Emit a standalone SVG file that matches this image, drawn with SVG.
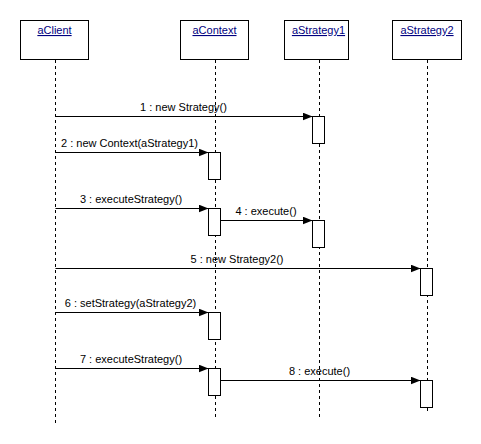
<svg xmlns="http://www.w3.org/2000/svg" width="481" height="444" viewBox="0 0 481 444">
  <style>
    .obj { fill: #ffffff; stroke: #000000; stroke-width: 1; }
    .name { font-family: "Liberation Sans", Arial, sans-serif; font-size: 11px; fill: #000080; text-anchor: middle; text-decoration: underline; }
    .life { stroke: #000000; stroke-width: 1; stroke-dasharray: 3 3; fill: none; }
    .act { fill: #ffffff; stroke: #000000; stroke-width: 1; }
    .msg { stroke: #000000; stroke-width: 1; fill: none; marker-end: url(#arrow); }
    .lbl { font-family: "Liberation Sans", Arial, sans-serif; font-size: 11px; fill: #000000; text-anchor: middle; }
  </style>
  <defs>
    <marker id="arrow" viewBox="0 0 10 8" refX="10" refY="4" markerWidth="10" markerHeight="8" markerUnits="userSpaceOnUse" orient="auto">
      <path d="M0,0 L10,4 L0,8 Z" fill="#000000"/>
    </marker>
  </defs>
  <rect width="481" height="444" fill="#ffffff"/>

  <!-- lifelines with their object boxes -->
  <g id="aClient">
    <rect class="obj" x="20.5" y="20.5" width="68" height="39"/>
    <text class="name" x="54.5" y="34">aClient</text>
    <line class="life" x1="55.5" y1="60" x2="55.5" y2="423"/>
  </g>
  <g id="aContext">
    <rect class="obj" x="180.5" y="20.5" width="68" height="39"/>
    <text class="name" x="214.5" y="34">aContext</text>
    <line class="life" x1="215.5" y1="60" x2="215.5" y2="417"/>
  </g>
  <g id="aStrategy1">
    <rect class="obj" x="284.5" y="20.5" width="64" height="39"/>
    <text class="name" x="318.5" y="34">aStrategy1</text>
    <line class="life" x1="319.5" y1="60" x2="319.5" y2="417"/>
  </g>
  <g id="aStrategy2">
    <rect class="obj" x="392.5" y="20.5" width="69" height="39"/>
    <text class="name" x="427" y="34">aStrategy2</text>
    <line class="life" x1="427.5" y1="60" x2="427.5" y2="411"/>
  </g>

  <!-- activation bars -->
  <g id="activations">
    <rect class="act" x="312.5" y="116.5" width="12" height="27"/>
    <rect class="act" x="208.5" y="152.5" width="12" height="27"/>
    <rect class="act" x="208.5" y="208.5" width="12" height="27"/>
    <rect class="act" x="312.5" y="220.5" width="12" height="27"/>
    <rect class="act" x="420.5" y="268.5" width="12" height="27"/>
    <rect class="act" x="208.5" y="312.5" width="12" height="27"/>
    <rect class="act" x="208.5" y="368.5" width="12" height="27"/>
    <rect class="act" x="420.5" y="380.5" width="12" height="27"/>
  </g>

  <!-- messages -->
  <g id="messages">
    <line class="msg" x1="55.5" y1="116.5" x2="312.5" y2="116.5"/>
    <text class="lbl" x="183.5" y="110.5">1 : new Strategy()</text>

    <line class="msg" x1="55.5" y1="152.5" x2="208.5" y2="152.5"/>
    <text class="lbl" x="129.5" y="146.5">2 : new Context(aStrategy1)</text>

    <line class="msg" x1="55.5" y1="208.5" x2="208.5" y2="208.5"/>
    <text class="lbl" x="131" y="202.5">3 : executeStrategy()</text>

    <line class="msg" x1="220.5" y1="220.5" x2="312.5" y2="220.5"/>
    <text class="lbl" x="266" y="214.5">4 : execute()</text>

    <line class="msg" x1="55.5" y1="268.5" x2="420.5" y2="268.5"/>
    <text class="lbl" x="237" y="262.5">5 : new Strategy2()</text>

    <line class="msg" x1="55.5" y1="312.5" x2="208.5" y2="312.5"/>
    <text class="lbl" x="130.5" y="306.5">6 : setStrategy(aStrategy2)</text>

    <line class="msg" x1="55.5" y1="368.5" x2="208.5" y2="368.5"/>
    <text class="lbl" x="131" y="362.5">7 : executeStrategy()</text>

    <line class="msg" x1="220.5" y1="380.5" x2="420.5" y2="380.5"/>
    <text class="lbl" x="319.5" y="374.5">8 : execute()</text>
  </g>
</svg>
